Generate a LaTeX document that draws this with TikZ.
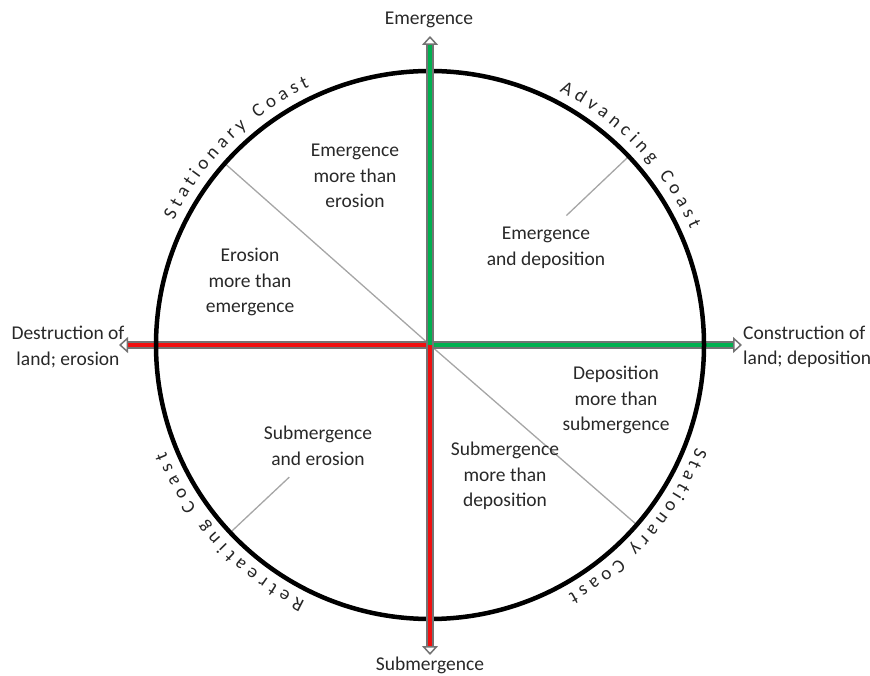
\documentclass[tikz,border=0pt]{standalone}
\usepackage{fontspec}
\setmainfont{Carlito}
\usetikzlibrary{positioning}
\usetikzlibrary{arrows.meta}
\usetikzlibrary{decorations.text}

\definecolor{axgreen}{RGB}{0,176,80}
\definecolor{axred}{RGB}{240,16,16}
\definecolor{inktext}{RGB}{40,40,40}

\begin{document}
\begin{tikzpicture}[x=1pt,y=1pt,
	lbl/.style={align=center,text=inktext,font=\fontsize{19.5}{25.5}\selectfont},
	axis/.style={draw=black!55,line width=1.5pt,double distance=4.5pt,-{Triangle[open,width=16pt,length=9pt]}},
	ray/.style={draw=black!35,line width=1.3pt},
	coast/.style={decorate,decoration={text along path,text align=fit to path,
		text={|\fontsize{19}{22}\selectfont\color{black!85}|#1}}}]
	\useasboundingbox (0,0) rectangle (870,675);
	\path (430,330) coordinate (O)
	+(0,309) coordinate (N)
	+(0,-310) coordinate (S)
	+(312,0) coordinate (E)
	+(-311,0) coordinate (W);
	\draw[ray] (O) -- ++(138.5:272) coordinate (nw);
	\draw[ray] (O) -- ++(-41:272) coordinate (se);
	\draw[ray] (O) ++(43.5:188) coordinate (ne1) -- ++(43.5:84) coordinate (ne2);
	\draw[ray] (O) ++(223.2:193) coordinate (sw1) -- ++(223.2:79) coordinate (sw2);
	\draw[axis,double=axred] (O) -- (W);
	\draw[axis,double=axgreen] (O) -- (E);
	\draw[line width=4.5pt] (O) circle[radius=274];
	\draw[axis,double=axgreen] (O) -- (N);
	\draw[axis,double=axred] (O) -- (S);
	\path[coast={Stationary Coast}] (O) ++(154:285) arc[start angle=154,end angle=115,radius=285];
	\path[coast={Advancing Coast}] (O) ++(63:285) arc[start angle=63,end angle=24,radius=285];
	\path[coast={Retreating Coast}] (O) ++(244:285) arc[start angle=244,end angle=202,radius=285];
	\path[coast={Stationary Coast}] (O) ++(339:285) arc[start angle=339,end angle=299,radius=285];
	\node[lbl,anchor=base] (up) at (429,650) {Emergence};
	\node[lbl,anchor=base] (down) at (430,5) {Submergence};
	\node[lbl] (destr) at (68,328) {Destruction of\\land; erosion};
	\node[lbl,anchor=west,align=left,inner sep=1pt] (constr) at (742,328) {Construction of\\land; deposition};
	\node[lbl] (emero) at (355,499) {Emergence\\more than\\erosion};
	\node[lbl] (eroem) at (250,393) {Erosion\\more than\\emergence};
	\node[lbl] (emdep) at (546,427) {Emergence\\and deposition};
	\node[lbl] (depsub) at (616,275) {Deposition\\more than\\submergence};
	\node[lbl] (subdep) at (505,199) {Submergence\\more than\\deposition};
	\node[lbl] (suber) at (318,229) {Submergence\\and erosion};
\end{tikzpicture}
\end{document}
